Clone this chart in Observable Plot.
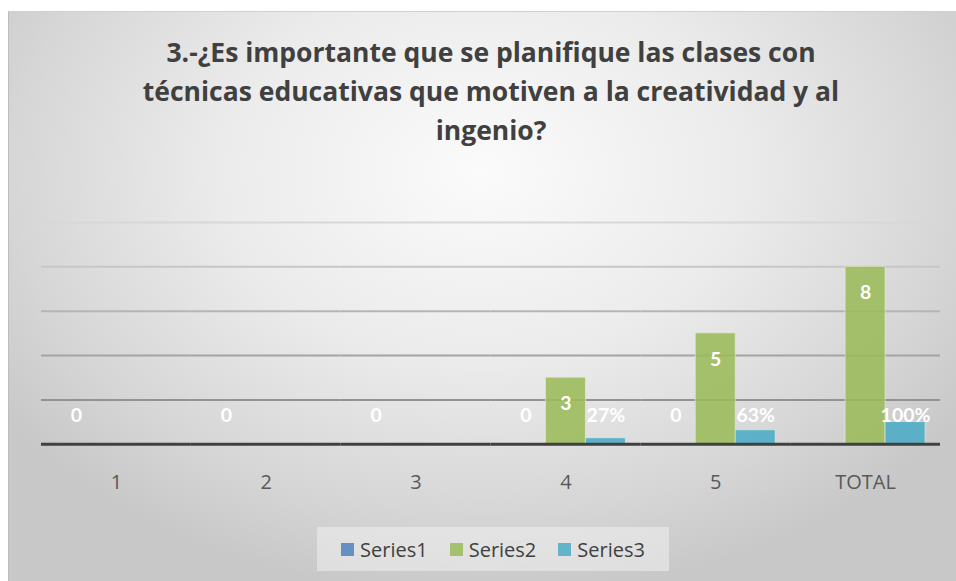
<!DOCTYPE html>
<html>
<head>
<meta charset="utf-8">
<script src="https://cdn.jsdelivr.net/npm/d3@7"></script>
<script src="https://cdn.jsdelivr.net/npm/@observablehq/plot@0.6"></script>
<style>
  html, body { margin: 0; padding: 0; background: #fff; }
  body { width: 956px; height: 581px; position: relative; overflow: hidden; font-family: "Open Sans", sans-serif; }
  #chart {
    position: absolute; left: 8px; top: 11px; width: 948px; height: 570px;
    background: radial-gradient(ellipse 62% 75% at 50% 28%, #fbfbfb 0%, #ebebeb 45%, #d6d6d6 80%, #c8c8c8 100%);
    border-left: 1px solid #bdbdbd; border-top: 1px solid #d0d0d0;
    box-sizing: border-box;
  }
  #title {
    position: absolute; left: 8px; top: 21px; width: 948px; text-align: center;
    font-family: "Open Sans", sans-serif; font-weight: 700; font-size: 26.5px; line-height: 39px; color: #404040;
  }
  #title span { display: inline-block; white-space: nowrap; }
  #plot { position: absolute; left: 0; top: 189px; }
  #legend {
    position: absolute; left: 308px; top: 515px; width: 352px; height: 44px;
    background: rgba(240,240,240,0.55);
    display: flex; align-items: center; justify-content: center; gap: 22px;
    font-family: "Open Sans", sans-serif; font-size: 20px; color: #404040;
  }
  #legend .item { display: flex; align-items: center; gap: 6px; }
  #legend .sw { width: 13px; height: 13px; display: inline-block; }
</style>
</head>
<body>
<div id="chart">
  <div id="title"></div>
  <div id="plot"></div>
  <div id="legend"></div>
</div>
<script>
const titleLines = [
  "3.-¿Es importante que se planifique las clases con",
  "técnicas educativas que motiven a la creatividad y al",
  "ingenio?"
];
const categories = ["1", "2", "3", "4", "5", "TOTAL"];
const seriesNames = ["Series1", "Series2", "Series3"];
const series1 = [0, 0, 0, 0, 0, null];
const series2 = [null, null, null, 3, 5, 8];
const series3 = [null, null, null, 0.27, 0.63, 1.00];
const seriesLabels3 = [null, null, null, "27%", "63%", "100%"];
const yTicks = [2, 4, 6, 8, 10];
const colors = ["#4f81bd", "#9bbb59", "#4bacc6"];

document.getElementById("title").innerHTML = titleLines.map(l => `<span>${l}</span>`).join("<br>");

const rows = [];
categories.forEach((c, i) => {
  [series1, series2, series3].forEach((arr, s) => {
    if (arr[i] != null) rows.push({
      category: c, series: seriesNames[s], value: arr[i],
      label: s === 2 ? seriesLabels3[i] : String(arr[i])
    });
  });
});
const lowLabels = rows.filter(d => d.series !== "Series2");
const s2Labels = rows.filter(d => d.series === "Series2");

const plot = Plot.plot({
  width: 948,
  height: 300,
  marginLeft: 31,
  marginRight: 15,
  marginTop: 21,
  marginBottom: 57,
  style: { background: "transparent", fontFamily: "Open Sans, sans-serif", overflow: "visible" },
  fx: { domain: categories, padding: 0, label: null, tickSize: 0, tickPadding: 31, axis: "bottom" },
  x: { domain: seriesNames, paddingInner: 0, paddingOuter: 0.33, axis: null },
  y: { domain: [0, 10], axis: null },
  color: { domain: seriesNames, range: colors },
  marks: [
    Plot.ruleY(yTicks, { stroke: "url(#gridGrad)", strokeWidth: 2 }),
    Plot.barY(rows, { fx: "category", x: "series", y: "value", fill: "series", fillOpacity: 0.88, stroke: "#e8f0dc", strokeOpacity: 0.6, strokeWidth: 1, inset: 0 }),
    Plot.ruleY([0], { stroke: "#404040", strokeWidth: 3 }),
    Plot.text(lowLabels, { fx: "category", x: "series", frameAnchor: "bottom", dy: -22, text: "label", fill: "white", fontWeight: "bold", fontSize: 19.5, fontFamily: "Lato, sans-serif" }),
    Plot.text(s2Labels, { fx: "category", x: "series", y: "value", dy: 26, text: "label", fill: "white", fontWeight: "bold", fontSize: 19.5, fontFamily: "Lato, sans-serif" })
  ]
});
const ns = "http://www.w3.org/2000/svg";
const defs = document.createElementNS(ns, "defs");
defs.innerHTML = `<linearGradient id="gridGrad" gradientUnits="userSpaceOnUse" x1="0" y1="20" x2="0" y2="215">
  <stop offset="0" stop-color="#d8d8d8"/><stop offset="1" stop-color="#8c8c8c"/></linearGradient>`;
plot.insertBefore(defs, plot.firstChild);
plot.querySelectorAll("g[aria-label='fx-axis tick label'] text, g[aria-label='fx-axis tick label']").forEach(t => {
  t.setAttribute("font-size", 20); t.setAttribute("fill", "#595959");
});
document.getElementById("plot").appendChild(plot);

const legend = document.getElementById("legend");
seriesNames.forEach((n, i) => {
  const it = document.createElement("div");
  it.className = "item";
  it.innerHTML = `<span class="sw" style="background:${colors[i]};opacity:0.85"></span><span>${n}</span>`;
  legend.appendChild(it);
});
</script>
</body>
</html>
